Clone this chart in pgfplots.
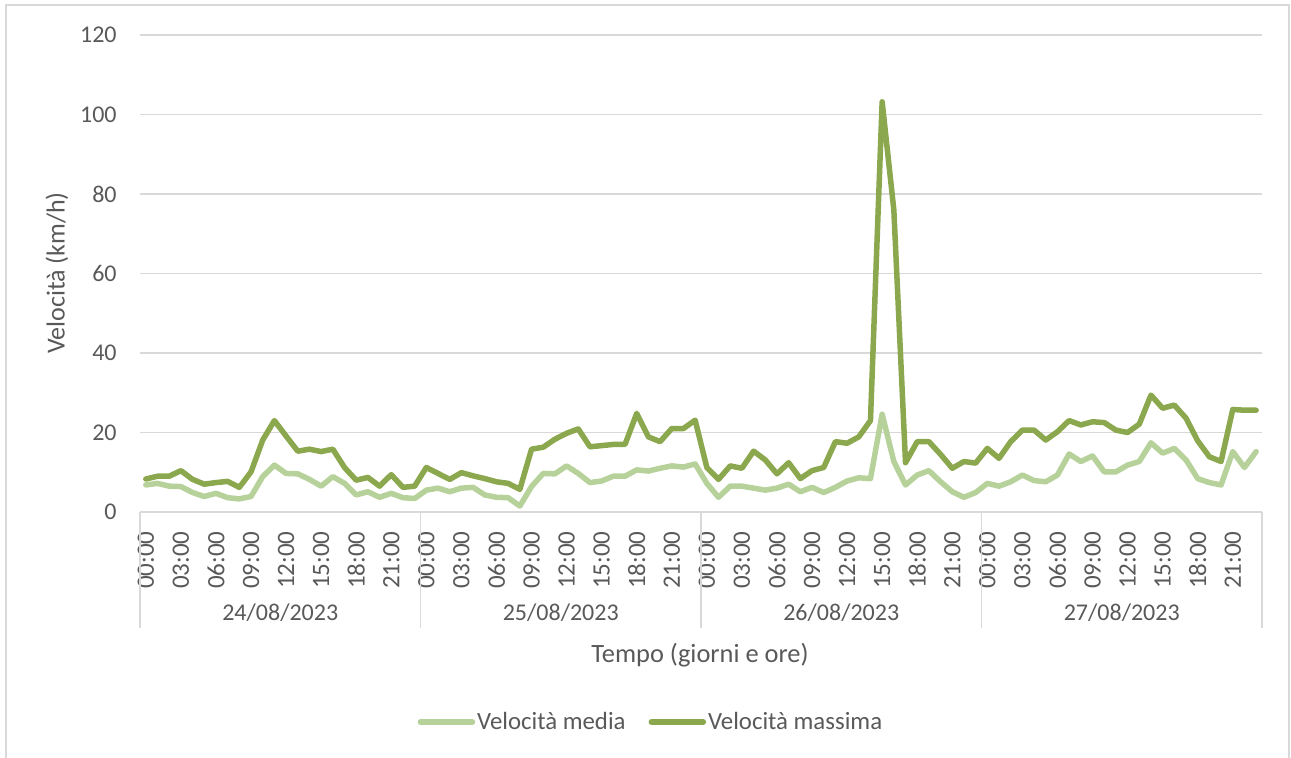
\documentclass[border=0pt]{standalone}
\usepackage{fontspec}
\setmainfont{Carlito}
\usepackage{pgfplots}
\usepackage{pgfplotstable}
\pgfplotsset{compat=1.18}
\definecolor{lightg}{HTML}{B7D19A}
\definecolor{darkg}{HTML}{8CA84E}
\definecolor{gridc}{HTML}{D9D9D9}
\definecolor{txt}{HTML}{595959}

\pgfplotstableread{
h media massima
0 6.8 8.3
1 7.2 9.0
2 6.5 9.0
3 6.4 10.4
4 4.9 8.2
5 3.9 7.0
6 4.7 7.4
7 3.6 7.7
8 3.3 6.2
9 3.9 10.1
10 8.9 18.1
11 11.8 23.0
12 9.7 19.1
13 9.6 15.3
14 8.2 15.8
15 6.5 15.2
16 8.9 15.8
17 7.2 11.2
18 4.3 8.0
19 5.1 8.7
20 3.7 6.5
21 4.7 9.4
22 3.6 6.2
23 3.4 6.5
24 5.5 11.2
25 6.0 9.7
26 5.1 8.2
27 6.0 9.9
28 6.2 9.1
29 4.3 8.4
30 3.7 7.6
31 3.6 7.2
32 1.5 5.7
33 6.4 15.8
34 9.7 16.3
35 9.6 18.3
36 11.6 19.8
37 9.7 20.9
38 7.4 16.4
39 7.8 16.7
40 9.0 17.0
41 9.0 17.0
42 10.6 24.8
43 10.3 18.9
44 11.0 17.7
45 11.6 21.0
46 11.3 21.0
47 12.1 23.1
48 7.2 11.2
49 3.7 8.2
50 6.5 11.6
51 6.5 11.0
52 6.0 15.3
53 5.5 13.1
54 6.0 9.6
55 7.0 12.4
56 5.1 8.4
57 6.2 10.4
58 4.9 11.2
59 6.2 17.7
60 7.8 17.3
61 8.6 18.9
62 8.4 23.0
63 24.6 103.2
64 12.7 76.0
65 6.8 12.4
66 9.3 17.7
67 10.4 17.7
68 7.6 14.5
69 5.1 11.0
70 3.7 12.7
71 4.9 12.3
72 7.2 16.0
73 6.5 13.5
74 7.6 17.7
75 9.3 20.6
76 7.9 20.6
77 7.6 18.1
78 9.3 20.2
79 14.6 23.0
80 12.7 21.9
81 14.1 22.7
82 10.1 22.5
83 10.1 20.6
84 11.8 20.0
85 12.7 22.1
86 17.4 29.4
87 14.8 26.1
88 16.0 26.9
89 13.1 23.6
90 8.4 17.9
91 7.4 13.9
92 6.8 12.7
93 15.2 25.8
94 11.2 25.6
95 15.2 25.6
}\datatable

\begin{document}
\begin{tikzpicture}[font=\color{txt}]
\useasboundingbox (0,0) rectangle (645.5pt,-379pt);
\draw[gridc, line width=0.6pt] (3pt,-379pt) -- (3pt,-2.5pt) -- (644.5pt,-2.5pt) -- (644.5pt,-379pt);
\begin{axis}[
  at={(70pt,-256pt)}, anchor=south west,
  scale only axis, width=561pt, height=238.5pt,
  xmin=-0.5, xmax=95.5, ymin=0, ymax=120,
  axis line style={draw=none},
  ytick={0,20,...,120},
  ymajorgrids, grid style={gridc, line width=0.6pt},
  major tick length=0pt,
  xtick={0,3,...,93},
  xticklabels={00:00,03:00,06:00,09:00,12:00,15:00,18:00,21:00,
               00:00,03:00,06:00,09:00,12:00,15:00,18:00,21:00,
               00:00,03:00,06:00,09:00,12:00,15:00,18:00,21:00,
               00:00,03:00,06:00,09:00,12:00,15:00,18:00,21:00},
  xticklabel style={rotate=90, anchor=east, inner sep=0pt, font=\fontsize{12.5}{14}\selectfont\color{txt}},
  xticklabel shift=9.5pt,
  yticklabel style={anchor=east, inner sep=0pt, font=\fontsize{12}{14}\selectfont\color{txt}},
  yticklabel shift=11.5pt,
  /pgf/number format/assume math mode=true,
  clip=false,
  legend style={at={(0.4554,-0.4403)}, anchor=center, draw=none, fill=none,
    legend columns=2, font=\fontsize{12.4}{14}\selectfont\color{txt},
    /tikz/every even column/.append style={column sep=10.5pt},
    inner sep=0pt, nodes={inner sep=1pt}},
  legend image code/.code={\draw[#1, line width=2.75pt, line cap=round] (0pt,0pt) -- (26pt,0pt);},
  legend cell align=left,
]
\addplot[lightg, line width=2.75pt, line join=round, line cap=round] table[x=h, y=media] {\datatable};
\addlegendentry{Velocità media}
\addplot[darkg, line width=2.75pt, line join=round, line cap=round] table[x=h, y=massima] {\datatable};
\addlegendentry{Velocità massima}
\draw[gridc, line width=0.6pt] (axis cs:-0.5,0) -- (axis cs:95.5,0);
\draw[gridc, line width=0.6pt] (axis cs:-0.5,0) -- ([yshift=-58pt]axis cs:-0.5,0);
\draw[gridc, line width=0.6pt] (axis cs:23.5,0) -- ([yshift=-58pt]axis cs:23.5,0);
\draw[gridc, line width=0.6pt] (axis cs:47.5,0) -- ([yshift=-58pt]axis cs:47.5,0);
\draw[gridc, line width=0.6pt] (axis cs:71.5,0) -- ([yshift=-58pt]axis cs:71.5,0);
\draw[gridc, line width=0.6pt] (axis cs:95.5,0) -- ([yshift=-58pt]axis cs:95.5,0);
\node[font=\fontsize{12}{14}\selectfont\color{txt}] at ([yshift=-50.5pt]axis cs:11.5,0) {24/08/2023};
\node[font=\fontsize{12}{14}\selectfont\color{txt}] at ([yshift=-50.5pt]axis cs:35.5,0) {25/08/2023};
\node[font=\fontsize{12}{14}\selectfont\color{txt}] at ([yshift=-50.5pt]axis cs:59.5,0) {26/08/2023};
\node[font=\fontsize{12}{14}\selectfont\color{txt}] at ([yshift=-50.5pt]axis cs:83.5,0) {27/08/2023};
\end{axis}
\node[rotate=90, font=\fontsize{13}{15}\selectfont\color{txt}] at (28.5pt,-136.5pt) {Velocità (km/h)};
\node[font=\fontsize{13.2}{15}\selectfont\color{txt}] at (350pt,-327.5pt) {Tempo (giorni e ore)};
\end{tikzpicture}
\end{document}
